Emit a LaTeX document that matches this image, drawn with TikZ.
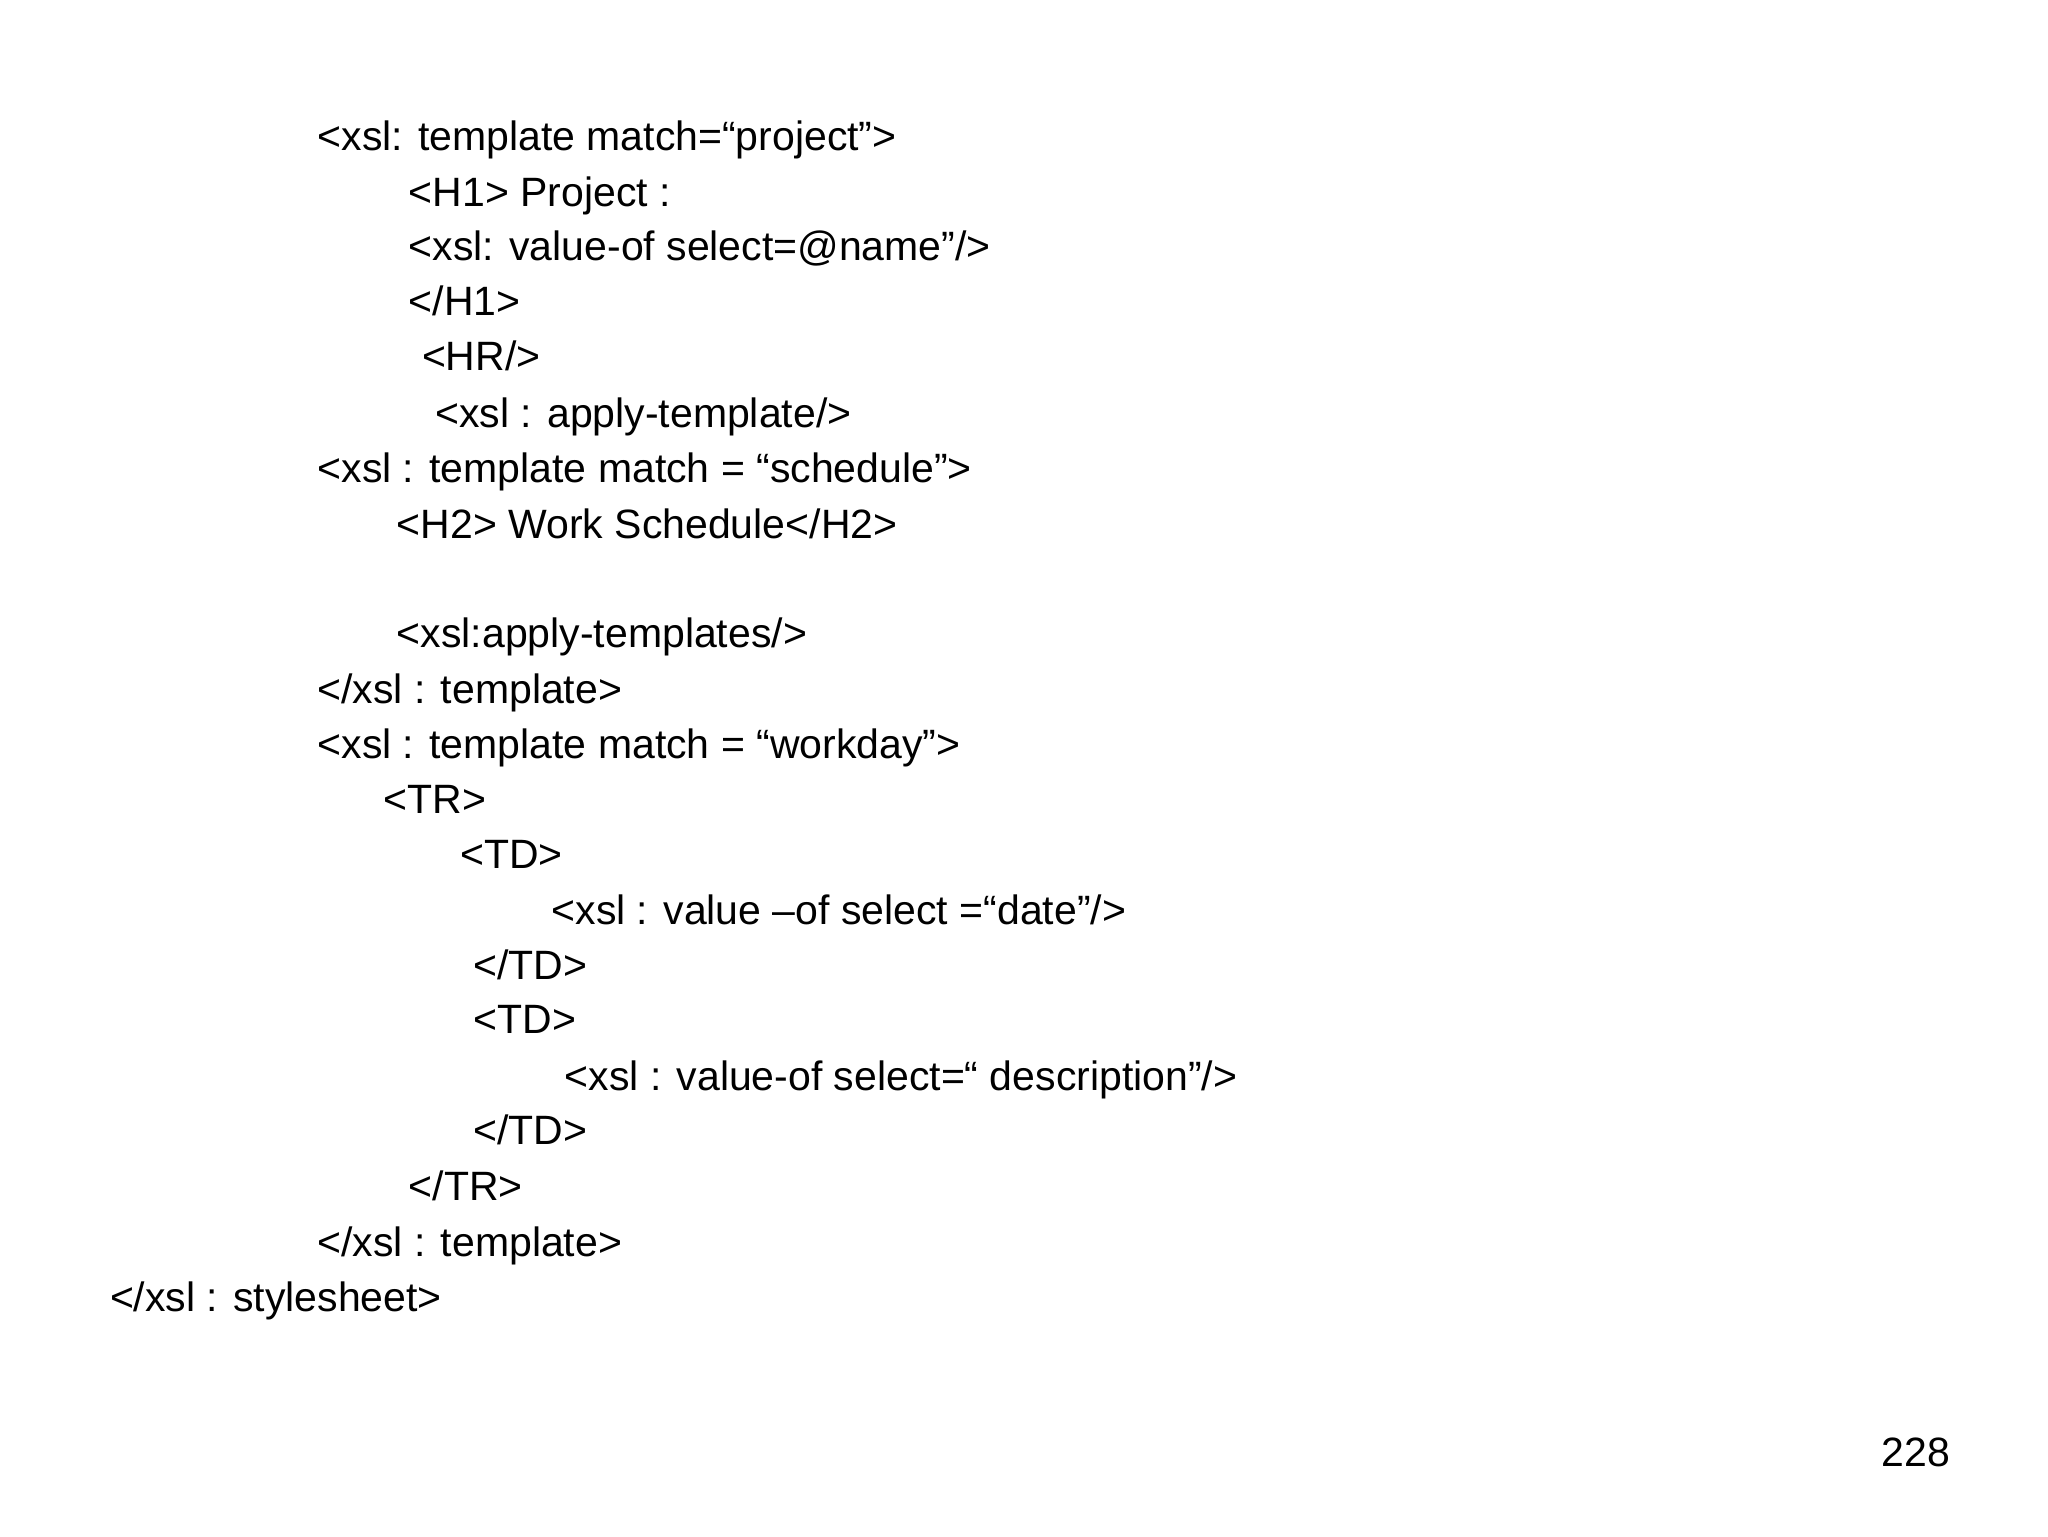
\documentclass[tikz,border=0pt]{standalone}
\usepackage{fontspec}
\setmainfont{Liberation Sans}
\begin{document}
\begin{tikzpicture}[x=1pt,y=-1pt,code/.style={anchor=base west,inner sep=0pt,font=\fontsize{31}{36}\selectfont}]
\useasboundingbox (0,0) rectangle (1549,1162);
\node[code] (l1) at (240,114) {<xsl: template match=“project”>};
\node[code] (l2) at (309,156) {<H1> Project :};
\node[code] (l3) at (309,197) {<xsl: value-of select=@name”/>};
\node[code] (l4) at (309,239) {</H1>};
\node[code] (l5) at (319,280) {<HR/>};
\node[code] (l6) at (329,323) {<xsl : apply-template/>};
\node[code] (l7) at (240,365) {<xsl : template match = “schedule”>};
\node[code] (l8) at (300,407) {<H2> Work Schedule</H2>};
\node[code] (l9) at (300,490) {<xsl:apply-templates/>};
\node[code] (l10) at (240,532) {</xsl : template>};
\node[code] (l11) at (240,574) {<xsl : template match = “workday”>};
\node[code] (l12) at (290,615) {<TR>};
\node[code] (l13) at (348,657) {<TD>};
\node[code] (l14) at (417,699) {<xsl : value –of select =“date”/>};
\node[code] (l15) at (358,741) {</TD>};
\node[code] (l16) at (358,782) {<TD>};
\node[code] (l17) at (427,825) {<xsl : value-of select=“ description”/>};
\node[code] (l18) at (358,866) {</TD>};
\node[code] (l19) at (309,908) {</TR>};
\node[code] (l20) at (240,950) {</xsl : template>};
\node[code] (l21) at (83,992) {</xsl : stylesheet>};
\node[code] (pg) at (1423,1109) {228};
\end{tikzpicture}
\end{document}
